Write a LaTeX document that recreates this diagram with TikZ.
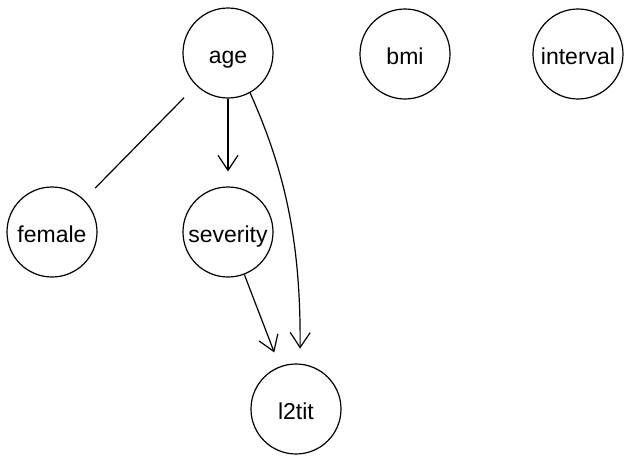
\documentclass[tikz,border=0pt]{standalone}
\usepackage{fontspec}
\setmainfont{Liberation Sans}
\usetikzlibrary{arrows.meta}
\begin{document}
\begin{tikzpicture}[x=1pt,y=-1pt,
  var/.style={draw, circle, line width=1.2pt, minimum size=90pt, inner sep=0pt,
    text height=20pt, text depth=0pt,
    font=\fontsize{23}{27}\selectfont},
  edge/.style={line width=1.2pt},
  arr/.style={edge, -{Straight Barb[length=15pt,width=20pt,line width=1.2pt]}, shorten >=15pt}]
\useasboundingbox (0,0) rectangle (625,456);
\node[var] (age) at (228,53) {age};
\node[var] (bmi) at (405,54) {bmi};
\node[var] (interval) at (578,54) {interval};
\node[var] (female) at (52,232) {female};
\node[var] (severity) at (228,232) {severity};
\node[var] (l2tit) at (296,409) {l2tit};
\draw[edge, shorten <=17pt, shorten >=16pt] (age) -- (female);
\draw[arr] (age) -- (severity);
\draw[arr] (severity) -- (l2tit);
\draw[arr] (age.-61) .. controls +(34,76) and +(1,-124) .. (l2tit.85);
\end{tikzpicture}
\end{document}
